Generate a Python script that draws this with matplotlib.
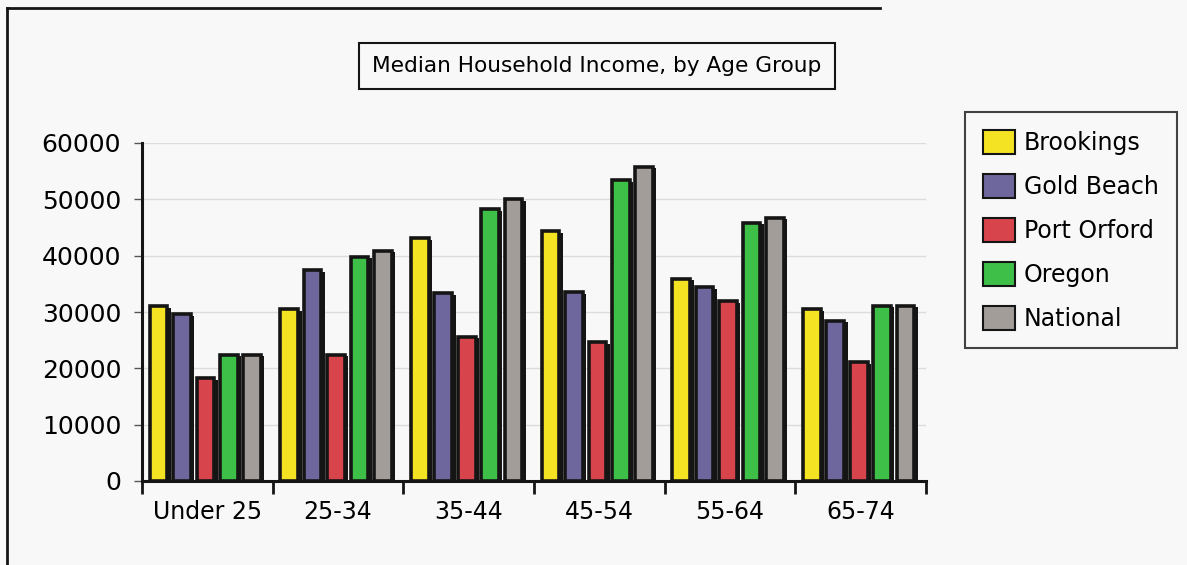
import matplotlib
matplotlib.use("Agg")
import matplotlib.pyplot as plt
import matplotlib.patheffects as pe
from matplotlib.lines import Line2D
import numpy as np

categories = ["Under 25", "25-34", "35-44", "45-54", "55-64", "65-74"]
series_names = ["Brookings", "Gold Beach", "Port Orford", "Oregon", "National"]
brookings = [31000, 30500, 43100, 44300, 35900, 30500]
gold_beach = [29600, 37400, 33300, 33500, 34400, 28400]
port_orford = [18200, 22400, 25600, 24600, 31900, 21100]
oregon = [22400, 39800, 48200, 53400, 45800, 31100]
national = [22400, 40900, 50000, 55800, 46700, 31100]
yticks = [0, 10000, 20000, 30000, 40000, 50000, 60000]
title = "Median Household Income, by Age Group"

colors = ["#f4e323", "#6d679d", "#d8444b", "#3dbf48", "#a39d99"]
bg = "#f7f8f7"

fig = plt.figure(figsize=(11.87, 5.65), dpi=100, facecolor=bg)
ax = fig.add_axes([142/1187, (565-481)/565, (926-142)/1187, (481-143)/565])
ax.set_facecolor(bg)

values = [brookings, gold_beach, port_orford, oregon, national]
x = np.arange(len(categories))
slot = 0.179
w = 0.135
for j, (vals, name, c) in enumerate(zip(values, series_names, colors)):
    bars = ax.bar(x + 0.485 + (j - 2) * slot, vals, width=w, color=c,
                  edgecolor="#151515", linewidth=2.6, label=name, zorder=3)
    for b in bars:
        b.set_path_effects([pe.SimplePatchShadow(offset=(2.5, -1), shadow_rgbFace="#151515", alpha=1.0),
                            pe.Normal()])

ax.set_xlim(0, len(categories))
ax.set_ylim(0, 60000)
ax.set_yticks(yticks)
ax.set_yticklabels([str(v) for v in yticks], fontsize=18)
ax.set_xticks(np.arange(len(categories) + 1))
ax.set_xticklabels([])
ax.set_xticks(x + 0.5, minor=True)
ax.set_xticklabels(categories, minor=True, fontsize=17)
ax.tick_params(axis="x", which="major", direction="out", length=9, width=2, color="#151515")
ax.tick_params(axis="x", which="minor", length=0, pad=14)
ax.tick_params(axis="y", direction="out", length=6, width=1, color="#555555", pad=9)
for s in ["top", "right"]:
    ax.spines[s].set_visible(False)
for s in ["left", "bottom"]:
    ax.spines[s].set_linewidth(2.2)
    ax.spines[s].set_color("#151515")
ax.yaxis.grid(True, color="#dcdcdc", linewidth=1)
ax.set_axisbelow(True)

fig.text(597/1187, 1 - 66/565, title, fontsize=15.6, ha="center", va="center",
         bbox=dict(boxstyle="square,pad=0.62", facecolor=bg, edgecolor="#151515", linewidth=1.5))

leg = ax.legend(loc="upper left", bbox_to_anchor=(965/1187, 1 - 112/565), bbox_transform=fig.transFigure,
                fontsize=17, frameon=True, fancybox=False, edgecolor="#151515",
                handlelength=1.35, handleheight=1.2, labelspacing=0.8, handletextpad=0.4,
                borderpad=0.75, borderaxespad=0)
leg.get_frame().set_linewidth(1.5)
leg.get_frame().set_facecolor(bg)
for h in leg.legend_handles:
    h.set_path_effects([])
    h.set_linewidth(1.5)

fig.add_artist(Line2D([7/1187, 7/1187], [0, 1 - 8/565], transform=fig.transFigure, color="#151515", linewidth=2))
fig.add_artist(Line2D([7/1187, 880/1187], [1 - 8/565, 1 - 8/565], transform=fig.transFigure, color="#151515", linewidth=2))

fig.savefig("out.png", dpi=100, facecolor=bg)
